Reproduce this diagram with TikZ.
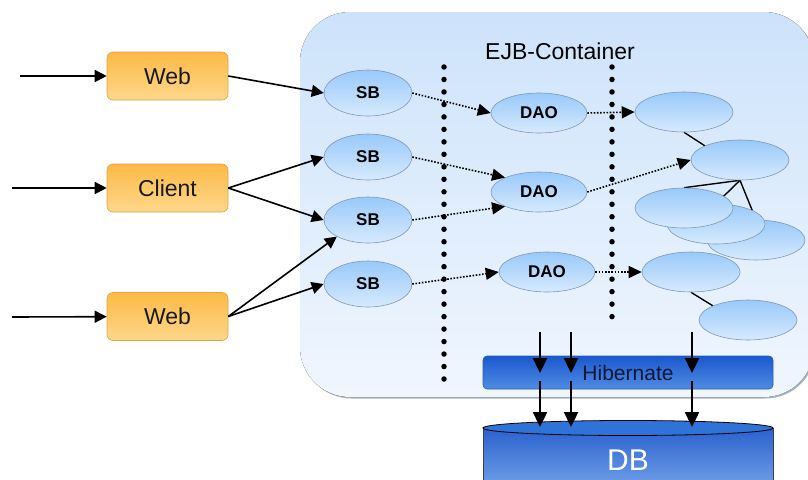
\documentclass[tikz,border=0pt]{standalone}
\usepackage{fontspec}
\setmainfont{Liberation Sans}
\usetikzlibrary{shapes.geometric,arrows.meta}
\definecolor{orTop}{HTML}{FCBA45}
\definecolor{orBot}{HTML}{FDD78C}
\definecolor{orLine}{HTML}{E3A23F}
\definecolor{elTop}{HTML}{99C9FA}
\definecolor{elBot}{HTML}{D6EAFD}
\definecolor{elLine}{HTML}{7F97B8}
\definecolor{ctTop}{HTML}{CDE3FB}
\definecolor{ctBot}{HTML}{F0F6FE}
\definecolor{ctLine}{HTML}{A9B3BF}
\definecolor{hbTop}{HTML}{1B58CF}
\definecolor{hbBot}{HTML}{4F8CE2}
\definecolor{hbLine}{HTML}{2A5DB5}
\definecolor{dbTop}{HTML}{2F73D9}
\definecolor{dbBodyTop}{HTML}{2A61CE}
\definecolor{dbBodyBot}{HTML}{6E9FE7}
\definecolor{hbText}{HTML}{111833}
\pgfdeclarelayer{back}
\pgfdeclarelayer{bg}
\pgfsetlayers{back,bg,main}
\tikzset{
 client/.style={rectangle, rounded corners=6pt, top color=orTop, bottom color=orBot, draw=orLine, line width=0.6pt, minimum width=121pt, minimum height=48pt, inner sep=0pt, font=\fontsize{23}{26}\selectfont, text=black!90},
 bean/.style={ellipse, top color=elTop, bottom color=elBot, draw=elLine, line width=0.6pt, inner sep=0pt, minimum width=88pt, minimum height=46pt, font=\bfseries\fontsize{17}{20}\selectfont},
 dao/.style={bean, minimum width=96pt, minimum height=40pt},
 ent/.style={bean, minimum width=98pt, minimum height=40pt},
 call/.style={line width=1.6pt, -{Triangle[length=12pt,width=12pt]}},
 flow/.style={line width=1.6pt, dash pattern=on 1.6pt off 1.6pt, -{Triangle[length=13pt,width=12pt]}},
 tier/.style={line width=5.5pt, line cap=round, dash pattern=on 0pt off 12.48pt},
 link/.style={line width=1.4pt},
 persist/.style={line width=2.4pt, -{Triangle[length=15pt,width=14pt]}},
}
\begin{document}
\begin{tikzpicture}[x=1pt,y=-1pt]
\useasboundingbox (0,0) rectangle (808,479);
% container
\begin{pgfonlayer}{back}
\fill[ctLine, rounded corners=50pt] (301.5,13.5) rectangle (815.5,398.5);
\fill[top color=ctTop, bottom color=ctBot, rounded corners=50pt] (300,12) rectangle (814,397);
\end{pgfonlayer}
\node (ejb) at (560,51) {\fontsize{23}{26}\selectfont EJB-Container};
% tiers
\draw[tier] (444,67) -- (444,379);
\draw[tier] (612,67) -- (612,329);
% clients
\node[client] (web1) at (167.5,76) {Web};
\node[client] (cli) at (167.5,188) {Client};
\node[client] (web2) at (167.5,316.5) {Web};
\coordinate (in1) at (20,76);
\coordinate (in2) at (12,188);
\coordinate (in3) at (12,317);
% session beans
\node[bean] (sb1) at (368,93) {SB};
\node[bean] (sb2) at (368,157) {SB};
\node[bean] (sb3) at (368,220) {SB};
\node[bean] (sb4) at (368,284) {SB};
% DAOs
\node[dao] (dao1) at (539,113) {DAO};
\node[dao] (dao2) at (539,192) {DAO};
\node[dao] (dao3) at (547,272) {DAO};
% entities
\node[ent] (e1) at (684,112) {};
\node[ent] (e2) at (740,160) {};
\node[ent] (e5) at (756,240) {};
\node[ent] (e4) at (716,224) {};
\node[ent] (e3) at (684,208) {};
\node[ent] (e6) at (691,272) {};
\node[ent] (e7) at (748,320) {};
\begin{pgfonlayer}{bg}
\draw[link] (e1.south) -- (e2.158);
\draw[link] (e2.south) -- (e3.north);
\draw[link] (e2.south) -- (e4.north);
\draw[link] (e2.south) -- (e5.north);
\draw[link] (e6.south) -- (e7.158);
\end{pgfonlayer}
% calls
\draw[call] (in1) -- (web1);
\draw[call] (in2) -- (cli);
\draw[call] (in3) -- (web2);
\draw[call] (web1.east) -- (sb1.west);
\draw[call] (cli.east) -- (sb2.west);
\draw[call] (cli.east) -- (sb3.west);
\draw[call] (web2.east) -- (sb3.208);
\draw[call] (web2.east) -- (sb4.west);
% flows
\draw[flow] (sb1.east) -- (dao1.west);
\draw[flow] (sb2.east) -- (dao2.157);
\draw[flow] (sb3.east) -- (dao2.203);
\draw[flow] (sb4.east) -- (dao3.west);
\draw[flow] (dao1.east) -- (e1.west);
\draw[flow] (dao2.east) -- (e2.west);
\draw[flow] (dao3.east) -- (e6.west);
% hibernate
\node[rectangle, rounded corners=4pt, top color=hbTop, bottom color=hbBot, draw=hbLine, line width=0.6pt, minimum width=290pt, minimum height=33pt, inner sep=0pt, text=hbText, font=\fontsize{21}{24}\selectfont] (hib) at (628,372.5) {Hibernate};
% DB
\fill[top color=dbBodyTop, bottom color=dbBodyBot] (483,428) rectangle (773,486);
\draw[black!75, line width=0.8pt] (483,428) -- (483,486) (773,428) -- (773,486);
\draw[fill=dbTop, draw=black, line width=0.8pt] (628,428) ellipse [x radius=145, y radius=7.5];
\node[text=white, font=\fontsize{30}{34}\selectfont] (db) at (628,460) {DB};
% persistence arrows
\coordinate (a1) at (540,332); \coordinate (b1) at (540,373);
\coordinate (a2) at (571,332); \coordinate (b2) at (571,373);
\coordinate (a3) at (692,332); \coordinate (b3) at (692,373);
\coordinate (c1) at (540,381); \coordinate (d1) at (540,427);
\coordinate (c2) at (571,381); \coordinate (d2) at (571,427);
\coordinate (c3) at (692,381); \coordinate (d3) at (692,427);
\draw[persist] (a1) -- (b1);
\draw[persist] (a2) -- (b2);
\draw[persist] (a3) -- (b3);
\draw[persist] (c1) -- (d1);
\draw[persist] (c2) -- (d2);
\draw[persist] (c3) -- (d3);
\end{tikzpicture}
\end{document}
